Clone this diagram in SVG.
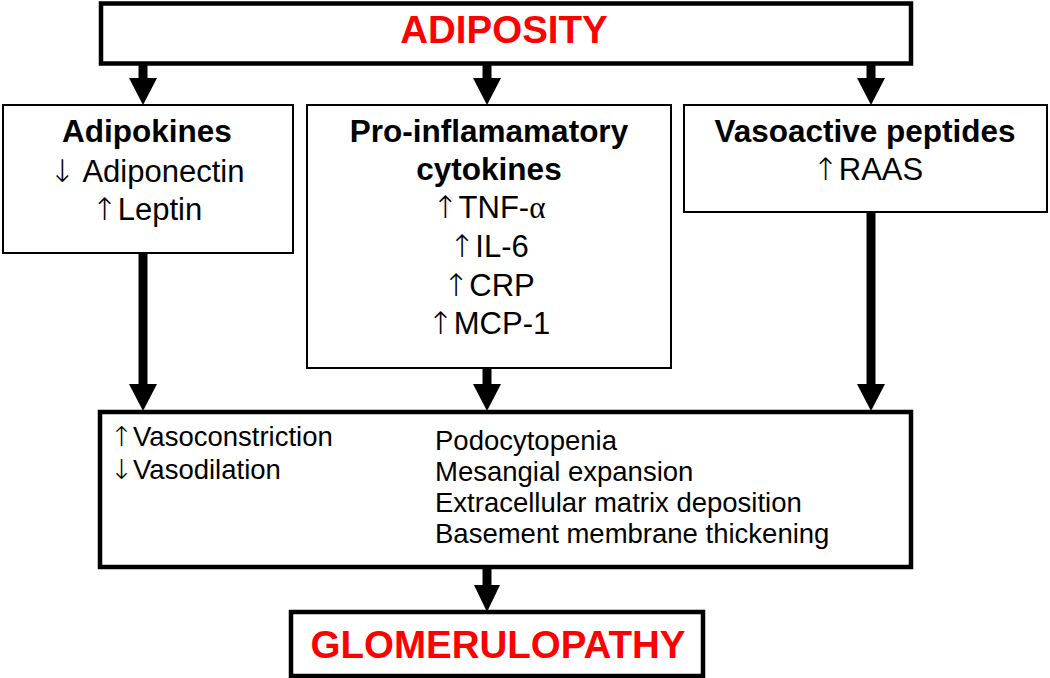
<svg xmlns="http://www.w3.org/2000/svg" width="1050" height="678" viewBox="0 0 1050 678">
<style>
.thick{fill:#fff;stroke:#000;stroke-width:4.5}
.thin{fill:#fff;stroke:#000;stroke-width:2}
.title{font-family:"Liberation Sans",Arial,sans-serif;font-weight:bold;fill:#ff0000;font-size:38.5px;text-anchor:middle}
.hd{font-family:"Liberation Sans",Arial,sans-serif;font-weight:bold;fill:#000;font-size:31.5px;text-anchor:middle}
.bd{font-family:"Liberation Sans",Arial,sans-serif;fill:#000;font-size:31px;text-anchor:middle}
.sm{font-family:"Liberation Sans",Arial,sans-serif;fill:#000;font-size:27.5px}
.ar{font-family:"DejaVu Sans",sans-serif;font-weight:200}
.al{font-family:"Liberation Serif",serif}
.shaft{stroke:#000;stroke-width:9;fill:none}
.head{fill:#000}
</style>
<g id="connectors">
<line class="shaft" x1="143" y1="64" x2="143" y2="80"/><polygon class="head" points="129,78 157,78 143,105"/>
<line class="shaft" x1="487" y1="64" x2="487" y2="80"/><polygon class="head" points="473,78 501,78 487,105"/>
<line class="shaft" x1="871" y1="64" x2="871" y2="80"/><polygon class="head" points="857,78 885,78 871,105"/>
<line class="shaft" x1="143" y1="254" x2="143" y2="386"/><polygon class="head" points="129,384 157,384 143,411"/>
<line class="shaft" x1="487" y1="369" x2="487" y2="386"/><polygon class="head" points="473,384 501,384 487,411"/>
<line class="shaft" x1="871" y1="213" x2="871" y2="386"/><polygon class="head" points="857,384 885,384 871,411"/>
<line class="shaft" x1="487" y1="569" x2="487" y2="587"/><polygon class="head" points="474,585 500,585 487,612"/>
</g>
<g id="adiposity">
<rect class="thick" x="101" y="3.5" width="810" height="60"/>
<text class="title" x="504" y="43">ADIPOSITY</text>
</g>
<g id="adipokines">
<rect class="thin" x="3" y="105" width="290" height="148"/>
<text class="hd" x="147" y="142">Adipokines</text>
<text class="bd" x="147" y="182"><tspan class="ar">↓</tspan> Adiponectin</text>
<text class="bd" x="147" y="220"><tspan class="ar">↑</tspan>Leptin</text>
</g>
<g id="cytokines">
<rect class="thin" x="307" y="105" width="364" height="263"/>
<text class="hd" x="489" y="142">Pro-inflamamatory</text>
<text class="hd" x="489" y="180">cytokines</text>
<text class="bd" x="489" y="218"><tspan class="ar">↑</tspan>TNF-<tspan class="al">α</tspan></text>
<text class="bd" x="489" y="257"><tspan class="ar">↑</tspan>IL-6</text>
<text class="bd" x="489" y="296"><tspan class="ar">↑</tspan>CRP</text>
<text class="bd" x="489" y="334"><tspan class="ar">↑</tspan>MCP-1</text>
</g>
<g id="vasoactive">
<rect class="thin" x="684" y="105" width="363" height="107"/>
<text class="hd" x="865" y="142">Vasoactive peptides</text>
<text class="bd" x="868" y="180"><tspan class="ar">↑</tspan>RAAS</text>
</g>
<g id="effects">
<rect class="thick" x="100" y="412" width="811" height="155"/>
<text class="sm" x="110" y="446"><tspan class="ar">↑</tspan>Vasoconstriction</text>
<text class="sm" x="110" y="479"><tspan class="ar">↓</tspan>Vasodilation</text>
<text class="sm" x="435" y="450">Podocytopenia</text>
<text class="sm" x="435" y="481">Mesangial expansion</text>
<text class="sm" x="435" y="512">Extracellular matrix deposition</text>
<text class="sm" x="435" y="543">Basement membrane thickening</text>
</g>
<g id="glomerulopathy">
<rect class="thick" x="291" y="612" width="412" height="64"/>
<text class="title" x="498" y="658">GLOMERULOPATHY</text>
</g>
</svg>
